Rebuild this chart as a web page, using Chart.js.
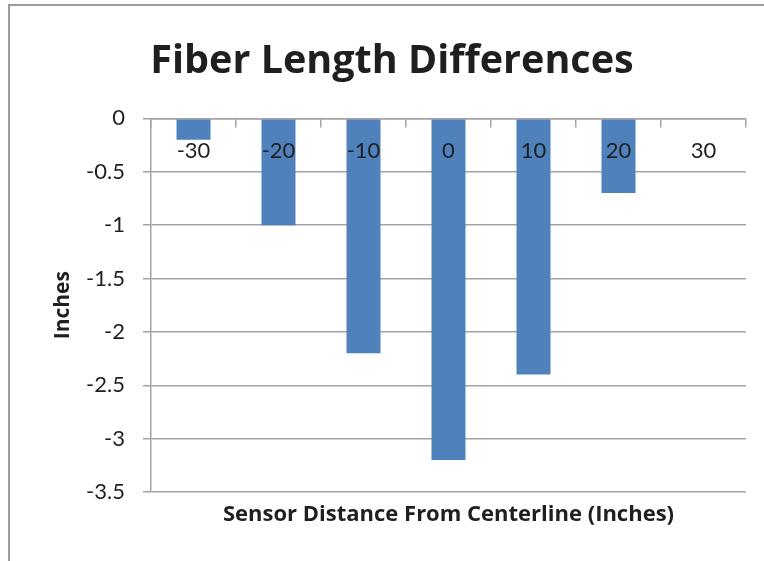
<!DOCTYPE html>
<html>
<head>
<meta charset="utf-8">
<script src="https://cdn.jsdelivr.net/npm/chart.js@4/dist/chart.umd.min.js"></script>
<style>
  html, body { margin: 0; padding: 0; background: #fff; }
  #wrap { position: relative; width: 764px; height: 561px; overflow: hidden; }
  #frame { position: absolute; left: 8px; top: 4px; width: 900px; height: 900px;
           border-left: 2px solid #9c9c9c; border-top: 2px solid #9c9c9c; }
  #chart { position: absolute; left: 0; top: 0; }
</style>
</head>
<body>
<div id="wrap">
  <div id="frame"></div>
  <canvas id="chart" width="764" height="561"></canvas>
</div>
<script>
// --- DATOS ---
const categories = ['-30', '-20', '-10', '0', '10', '20', '30'];
const diffValues = [-0.2, -1, -2.2, -3.2, -2.4, -0.7, 0];
const yTicks = [0, -0.5, -1, -1.5, -2, -2.5, -3, -3.5];

const FONT = 'Lato, Carlito, Calibri, sans-serif';
const BOLD_FONT = '"Open Sans", sans-serif';
const GRID = '#a3a3a3';
const TEXT = '#1f1f1f';

const ctx = document.getElementById('chart').getContext('2d');

new Chart(ctx, {
    type: 'bar',
    data: {
        labels: categories,
        datasets: [{
            label: 'Fiber Length Differences',
            data: diffValues,
            backgroundColor: '#4f81bd',
            borderWidth: 0,
            categoryPercentage: 1,
            barPercentage: 0.4
        }]
    },
    options: {
        responsive: false,
        animation: false,
        layout: { padding: { left: 38, right: 18, top: 0, bottom: 33 } },
        plugins: {
            legend: { display: false },
            tooltip: { enabled: false },
            title: {
                display: true,
                text: 'Fiber Length Differences',
                color: TEXT,
                font: { family: BOLD_FONT, size: 39.5, weight: 'bold' },
                padding: { top: 38, bottom: 33 }
            }
        },
        scales: {
            y: {
                min: -3.5,
                max: 0,
                afterBuildTicks: (s) => { s.ticks = yTicks.map(v => ({ value: v })); },
                afterFit: (s) => { s.width = 113; },
                ticks: {
                    color: TEXT,
                    font: { family: FONT, size: 22 },
                    padding: 18,
                    callback: (v) => String(v)
                },
                grid: { color: GRID, lineWidth: 1.5, tickLength: 8 },
                border: { color: GRID, width: 1.5 },
                title: {
                    display: true,
                    text: 'Inches',
                    color: TEXT,
                    font: { family: BOLD_FONT, size: 21, weight: 'bold' },
                    padding: { top: 12, bottom: 10 }
                }
            },
            x: {
                type: 'category',
                position: { y: 0 },
                grid: { display: true, drawOnChartArea: false, offset: true, color: GRID, lineWidth: 1.5, tickLength: 8, z: 1 },
                border: { color: GRID, width: 1.5, z: 1 },
                ticks: {
                    color: TEXT,
                    font: { family: FONT, size: 22 },
                    padding: 11,
                    maxRotation: 0,
                    z: 1
                }
            },
            x2: {
                type: 'category',
                position: 'bottom',
                afterFit: (s) => { s.height = 36; },
                grid: { display: false },
                border: { display: false },
                ticks: { display: false },
                title: {
                    display: true,
                    text: 'Sensor Distance From Centerline (Inches)',
                    color: TEXT,
                    font: { family: BOLD_FONT, size: 22, weight: 'bold' },
                    padding: { top: 0, bottom: 0 }
                }
            }
        }
    }
});
</script>
</body>
</html>
